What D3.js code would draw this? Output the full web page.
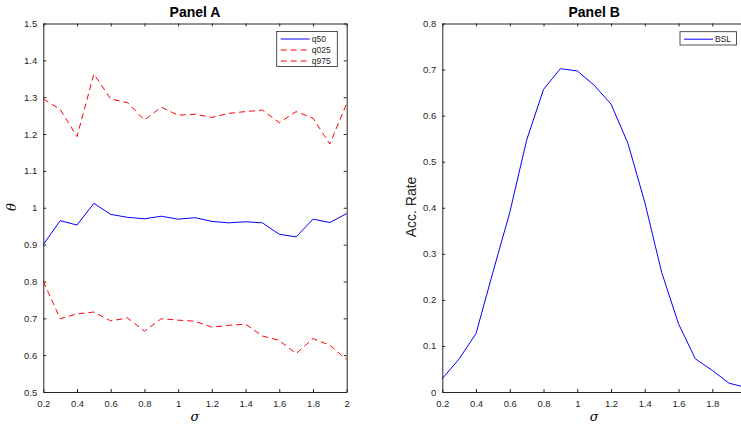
<!doctype html>
<html>
<head>
<meta charset="utf-8">
<script src="https://cdn.jsdelivr.net/npm/d3@7"></script>
<style>
html,body{
    margin: 0;
    overflow: hidden;
    background: #fff;
}
text {
    font-family: "Liberation Sans", Arial, sans-serif;
}
</style>
</head>
<body>
<script>
// sigma grid shared by both panels
var sigma = [0.2,0.3,0.4,0.5,0.6,0.7,0.8,0.9,1.0,1.1,1.2,1.3,1.4,1.5,1.6,1.7,1.8,1.9,2.0];

// Panel A: quantiles of theta
var q50  = [0.900,0.965,0.953,1.012,0.982,0.974,0.970,0.977,0.969,0.973,0.963,0.959,0.962,0.959,0.928,0.921,0.969,0.960,0.984];
var q025 = [0.800,0.699,0.712,0.717,0.693,0.701,0.665,0.699,0.695,0.692,0.676,0.681,0.684,0.652,0.640,0.604,0.645,0.627,0.588];
var q975 = [1.295,1.267,1.193,1.363,1.295,1.285,1.238,1.273,1.251,1.254,1.245,1.256,1.261,1.265,1.231,1.261,1.243,1.173,1.283];

// Panel B: acceptance rate
var bsl  = [0.029,0.072,0.127,0.260,0.390,0.547,0.657,0.702,0.697,0.666,0.625,0.540,0.412,0.260,0.148,0.072,0.047,0.019,0.010];

var xTicks  = [0.2,0.4,0.6,0.8,1,1.2,1.4,1.6,1.8,2];
var yTicksA = [0.5,0.6,0.7,0.8,0.9,1,1.1,1.2,1.3,1.4,1.5];
var yTicksB = [0,0.1,0.2,0.3,0.4,0.5,0.6,0.7,0.8];

var W = 741, H = 424;
var axisCol = "#262626";

var svg = d3.select("body").append("svg")
    .attr("width", W)
    .attr("height", H);

function panel(opt){
    var g = svg.append("g");
    var x = d3.scaleLinear().domain([0.2,2]).range([opt.left, opt.right]);
    var y = d3.scaleLinear().domain(opt.ydom).range([392, 23.5]);
    var fmt = d3.format("~g");
    // labels that would fall past the window edge are left blank
    var xfmt = function(d){ return x(d) + 4 > W ? "" : fmt(d); };
    var tl = 3;

    // ticks inside, on all four sides (box on)
    g.append("g").attr("transform","translate(0,392)")
        .call(d3.axisBottom(x).tickValues(xTicks).tickSizeInner(-tl).tickSizeOuter(0).tickPadding(8).tickFormat(xfmt));
    g.append("g").attr("transform","translate(0,23.5)")
        .call(d3.axisTop(x).tickValues(xTicks).tickSizeInner(-tl).tickSizeOuter(0).tickFormat(""));
    g.append("g").attr("transform","translate("+opt.left+",0)")
        .call(d3.axisLeft(y).tickValues(opt.yticks).tickSizeInner(-tl).tickSizeOuter(0).tickPadding(6).tickFormat(fmt));
    g.append("g").attr("transform","translate("+opt.right+",0)")
        .call(d3.axisRight(y).tickValues(opt.yticks).tickSizeInner(-tl).tickSizeOuter(0).tickFormat(""));

    g.selectAll(".domain").attr("stroke", axisCol).attr("stroke-width", 1);
    g.selectAll(".tick line").attr("stroke", axisCol);
    g.selectAll(".tick text").attr("fill", axisCol)
        .style("font-family", "'Liberation Sans', Arial, sans-serif")
        .style("font-size", "9.5px");

    var line = d3.line().x(function(d,i){return x(sigma[i]);}).y(function(d){return y(d);});
    opt.series.forEach(function(s){
        g.append("path").datum(s.values)
            .attr("d", line)
            .attr("fill","none")
            .attr("stroke", s.color)
            .attr("stroke-width", 1)
            .attr("stroke-dasharray", s.dash || null);
    });

    g.append("text")
        .attr("x", (opt.left + opt.right)/2).attr("y", 17)
        .attr("text-anchor","middle")
        .style("font-size","14px").style("font-weight","bold")
        .text(opt.title);

    g.append("text")
        .attr("x", (opt.left + opt.right)/2).attr("y", 421)
        .attr("text-anchor","middle")
        .style("font-family","'DejaVu Serif', 'Liberation Serif', serif")
        .style("font-style","italic").style("font-size","13px")
        .text("σ");

    // legend
    var lg = g.append("g").attr("transform","translate("+opt.legend.x+","+opt.legend.y+")");
    lg.append("rect")
        .attr("width", opt.legend.w).attr("height", opt.legend.h)
        .attr("fill","#fff").attr("stroke", axisCol).attr("stroke-width", 0.8);
    opt.series.forEach(function(s,i){
        var yy = 7.5 + i*11;
        lg.append("line").attr("x1",4).attr("x2",opt.legend.lineEnd)
            .attr("y1",yy).attr("y2",yy)
            .attr("stroke", s.color).attr("stroke-width",1)
            .attr("stroke-dasharray", s.dash || null);
        lg.append("text").attr("x", opt.legend.lineEnd + 2).attr("y", yy + 3)
            .style("font-size","8.5px").attr("fill", axisCol)
            .text(s.name);
    });
    return g;
}

panel({
    left: 43.3, right: 346.7, ydom: [0.5,1.5], yticks: yTicksA, title: "Panel A",
    series: [
        {name:"q50",  values:q50,  color:"#0000ff"},
        {name:"q025", values:q025, color:"#ff0000", dash:"6,4"},
        {name:"q975", values:q975, color:"#ff0000", dash:"6,4"}
    ],
    legend: {x:276.7, y:31.5, w:60.6, h:35, lineEnd:33}
});

panel({
    left: 442.3, right: 746, ydom: [0,0.8], yticks: yTicksB, title: "Panel B",
    series: [
        {name:"BSL", values:bsl, color:"#0000ff"}
    ],
    legend: {x:680, y:31.7, w:56.5, h:13.3, lineEnd:33}
});

// y labels
svg.append("text")
    .attr("transform","translate(16,207) rotate(-90)")
    .attr("text-anchor","middle")
    .style("font-family","'DejaVu Serif', 'Liberation Serif', serif")
    .style("font-style","italic").style("font-size","13px")
    .text("θ");

svg.append("text")
    .attr("transform","translate(416,207) rotate(-90)")
    .attr("text-anchor","middle")
    .style("font-size","14px").attr("fill", axisCol)
    .text("Acc. Rate");
</script>
</body>
</html>
